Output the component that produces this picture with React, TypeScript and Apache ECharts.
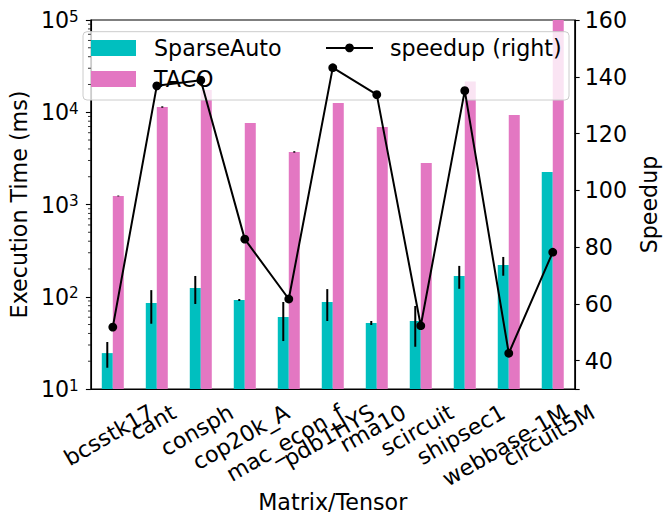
import React, { useEffect, useRef } from 'react';
import * as echarts from 'echarts';

const categories = ['bcsstk17', 'cant', 'consph', 'cop20k_A', 'mac_econ_f', 'pdb1HYS', 'rma10', 'scircuit', 'shipsec1', 'webbase-1M', 'circuit5M'];
const sparseAuto = [24.5, 85.5, 124.5, 92.2, 60.3, 87.7, 51.9, 54.6, 168, 221, 2250];
const sparseAutoLow = [17.0, 51, 83.5, 90, 33.1, 54.6, 49.4, 28.7, 122, 169, 2250];
const sparseAutoHigh = [32.3, 118, 168, 94.6, 87.7, 121, 54.6, 79.4, 216, 270, 2250];
const taco = [1237, 11400, 17400, 7640, 3710, 12600, 6920, 2820, 21500, 9330, 120000];
const tacoLow = [1225, 11200, 17400, 7640, 3650, 12600, 6920, 2820, 21500, 9330, 120000];
const tacoHigh = [1250, 11600, 17400, 7640, 3780, 12600, 6920, 2820, 21500, 9330, 120000];
const speedup = [51.8, 136.8, 138.8, 82.8, 61.7, 143.2, 133.7, 52.3, 135.1, 42.6, 78.2];
const logDecades = [10, 100, 1000, 10000];
const minorMultipliers = [2, 3, 4, 5, 6, 7, 8, 9];

const FONT = 'DejaVu Sans';
const FS = 22.2;
const CYAN = '#00bfbf';
const PINK = '#e377c2';

export default function App() {
  const ref = useRef<HTMLDivElement>(null);

  useEffect(() => {
    document.body.style.margin = '0';
    const chart = echarts.init(ref.current as HTMLDivElement, null, { renderer: 'svg' });

    const errSeries = (lo: number[], hi: number[], side: number) => ({
      type: 'custom',
      z: 2,
      clip: false,
      silent: true,
      data: categories.map((_, i) => [i, lo[i], hi[i]]),
      encode: { x: 0, y: [1, 2] },
      renderItem: (params: any, api: any) => {
        const i = api.value(0);
        const l = api.value(1);
        const h = api.value(2);
        if (!(h > l)) return null;
        const bw = api.size([1, 0])[0];
        const p1 = api.coord([i, l]);
        const p2 = api.coord([i, h]);
        const x = p1[0] + side * bw * 0.125;
        return {
          type: 'line',
          shape: { x1: x, y1: p1[1], x2: x, y2: p2[1] },
          style: { stroke: '#000', lineWidth: 2 },
        };
      },
    });

    const minorVals: number[][] = [];
    logDecades.forEach((d) => minorMultipliers.forEach((m) => minorVals.push([0, d * m])));

    const axisLineStyle = { color: '#000', width: 1.1 };
    const legendText = { fontFamily: FONT, fontSize: FS, color: '#000' };

    const box = {
      type: 'rect',
      id: 'legendBox',
      z: 3,
      silent: true,
      shape: { x: 83, y: 31.7, width: 486, height: 68.3, r: 4 },
      style: { fill: 'rgba(255,255,255,0.8)', stroke: '#cccccc', lineWidth: 1 },
    };

    chart.setOption({
      animation: false,
      textStyle: { fontFamily: FONT },
      grid: {
        left: 86,
        right: 87,
        top: 20,
        bottom: 133,
        containLabel: false,
        show: true,
        borderColor: '#000',
        borderWidth: 1.1,
        backgroundColor: 'transparent',
      },
      legend: [
        {
          data: ['SparseAuto'],
          left: 91,
          top: 36.9,
          itemWidth: 45,
          itemHeight: 16,
          icon: 'rect',
          padding: 0,
          z: 4,
          selectedMode: false,
          textStyle: { ...legendText, padding: [0, 0, 0, 13] },
        },
        {
          data: ['TACO'],
          left: 91,
          top: 67.9,
          itemWidth: 45,
          itemHeight: 16,
          icon: 'rect',
          padding: 0,
          z: 4,
          selectedMode: false,
          textStyle: { ...legendText, padding: [0, 0, 0, 13] },
        },
        {
          data: ['speedup (right)'],
          left: 325,
          top: 36.9,
          itemWidth: 47,
          itemHeight: 11,
          padding: 0,
          z: 4,
          selectedMode: false,
          textStyle: { ...legendText, padding: [0, 0, 0, 12] },
        },
      ],
      xAxis: {
        type: 'category',
        data: categories,
        axisLabel: { show: false },
        axisTick: { alignWithLabel: true, length: 4.9, lineStyle: axisLineStyle },
        axisLine: { lineStyle: axisLineStyle },
        name: 'Matrix/Tensor',
        nameLocation: 'middle',
        nameGap: 102,
        nameTextStyle: { fontFamily: FONT, fontSize: FS, color: '#000' },
      },
      yAxis: [
        {
          type: 'log',
          logBase: 10,
          min: 10,
          max: 100000,
          position: 'left',
          axisLine: { show: true, lineStyle: axisLineStyle },
          axisTick: { show: true, length: 4.9, lineStyle: axisLineStyle },
          splitLine: { show: false },
          minorTick: { show: false },
          axisLabel: {
            margin: 12,
            formatter: (v: number) => `{b|10}{e|${Math.round(Math.log10(v))}}`,
            rich: {
              b: { fontFamily: FONT, fontSize: FS, color: '#000', verticalAlign: 'bottom' },
              e: { fontFamily: FONT, fontSize: 15.2, color: '#000', verticalAlign: 'bottom', padding: [0, 0, 7, 0] },
            },
          },
          name: 'Execution Time (ms)',
          nameLocation: 'middle',
          nameGap: 60,
          nameRotate: 90,
          nameTextStyle: { fontFamily: FONT, fontSize: FS, color: '#000' },
        },
        {
          type: 'value',
          min: 30,
          max: 160,
          splitNumber: 6,
          position: 'right',
          axisLine: { show: true, lineStyle: axisLineStyle },
          axisTick: { show: true, length: 4.9, lineStyle: axisLineStyle },
          splitLine: { show: false },
          axisLabel: {
            margin: 10,
            fontFamily: FONT,
            fontSize: FS,
            color: '#000',
            formatter: (v: number) => (v === 30 ? '' : String(v)),
          },
          name: 'Speedup',
          nameLocation: 'middle',
          nameGap: 53,
          nameRotate: 90,
          nameTextStyle: { fontFamily: FONT, fontSize: FS, color: '#000' },
        },
      ],
      series: [
        {
          name: 'SparseAuto',
          type: 'bar',
          data: sparseAuto,
          yAxisIndex: 0,
          barWidth: '25%',
          barGap: '0%',
          clip: true,
          z: 1,
          itemStyle: { color: CYAN },
        },
        {
          name: 'TACO',
          type: 'bar',
          data: taco,
          yAxisIndex: 0,
          barWidth: '25%',
          barGap: '0%',
          clip: true,
          z: 1,
          itemStyle: { color: PINK },
        },
        { ...errSeries(sparseAutoLow, sparseAutoHigh, -1), yAxisIndex: 0 },
        { ...errSeries(tacoLow, tacoHigh, 1), yAxisIndex: 0 },
        {
          name: 'speedup (right)',
          type: 'line',
          data: speedup,
          yAxisIndex: 1,
          z: 5,
          symbol: 'circle',
          symbolSize: 8.8,
          itemStyle: { color: '#000' },
          lineStyle: { color: '#000', width: 2 },
        },
        {
          type: 'custom',
          yAxisIndex: 0,
          z: 6,
          clip: false,
          silent: true,
          data: minorVals,
          encode: { x: 0, y: 1 },
          renderItem: (params: any, api: any) => {
            const y = api.coord([0, api.value(1)])[1];
            const x0 = params.coordSys.x;
            return {
              type: 'line',
              shape: { x1: x0 - 2.8, y1: y, x2: x0, y2: y },
              style: { stroke: '#000', lineWidth: 0.8 },
            };
          },
        },
      ],
      graphic: { elements: [box] },
    });

    const gridBottom = chart.convertToPixel({ yAxisIndex: 0 } as any, 10) as unknown as number;
    const canvas = document.createElement('canvas');
    const ctx = canvas.getContext('2d') as CanvasRenderingContext2D;
    ctx.font = `${FS}px "${FONT}"`;
    const labels = categories.map((c, i) => {
      const x = chart.convertToPixel({ xAxisIndex: 0 } as any, c) as unknown as number;
      const w = ctx.measureText(c).width;
      const h = FS * 1.164;
      const H = w * 0.5 + h * 0.866;
      return {
        type: 'text',
        id: 'xl' + i,
        x: x - 4,
        y: gridBottom + 9.8 + H / 2,
        rotation: Math.PI / 6,
        z: 6,
        silent: true,
        style: { text: c, fontFamily: FONT, fontSize: FS, fill: '#000', align: 'center', verticalAlign: 'middle' },
      };
    });
    chart.setOption({ graphic: { elements: [box, ...labels] } });

    return () => chart.dispose();
  }, []);

  return <div ref={ref} style={{ width: 668, height: 522 }} />;
}
